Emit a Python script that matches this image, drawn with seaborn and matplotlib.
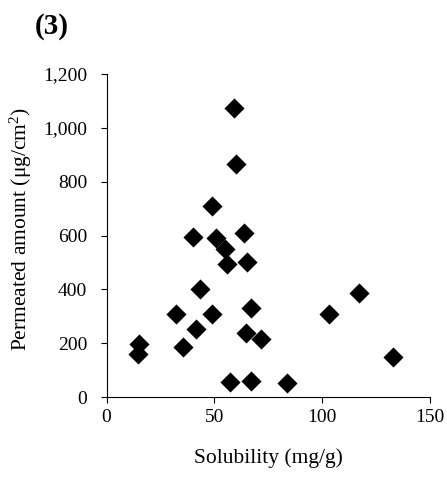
import matplotlib
matplotlib.use("Agg")
import matplotlib.pyplot as plt
import seaborn as sns
import pandas as pd

# Solubility (mg/g) vs permeated amount (ug/cm2) for each compound
solubility = [59.2, 59.9, 49.0, 40.0, 50.6, 63.9, 54.8, 55.7, 65.0, 43.3,
              117.2, 66.9, 32.2, 49.0, 103.2, 41.4, 64.7, 71.6, 15.2, 35.6,
              14.7, 133.0, 67.1, 57.3, 83.8]
permeated = [1075, 866, 709, 594, 591, 609, 548, 493, 501, 400,
             388, 332, 310, 307, 307, 254, 236, 217, 196, 186,
             159, 149, 59, 57, 51]

x_ticks = [0, 50, 100, 150]
y_ticks = [0, 200, 400, 600, 800, 1000, 1200]
y_tick_labels = ["0", "200", "400", "600", "800", "1,000", "1,200"]

sns.set_theme(style="ticks")
plt.rcParams["font.family"] = ["Liberation Serif", "DejaVu Serif"]
plt.rcParams["mathtext.fontset"] = "custom"
plt.rcParams["mathtext.rm"] = "Liberation Serif"
plt.rcParams["mathtext.it"] = "Liberation Serif:italic"

df = pd.DataFrame({"Solubility": solubility, "Permeated": permeated})

fig = plt.figure(figsize=(4.47, 4.80), dpi=100)
ax = fig.add_axes([106.5 / 447, 1 - 397 / 480, (430 - 106.5) / 447, (397 - 74) / 480])

sns.scatterplot(data=df, x="Solubility", y="Permeated", marker="D", s=105,
                color="black", edgecolor="black", linewidth=0, ax=ax, legend=False)

ax.set_xlim(0, 150)
ax.set_ylim(0, 1200)
ax.set_xticks(x_ticks)
ax.set_xticklabels([str(t) for t in x_ticks])
ax.set_yticks(y_ticks)
ax.set_yticklabels(y_tick_labels)
ax.tick_params(axis="both", direction="out", length=4, width=0.8,
               labelsize=14, colors="black")
ax.tick_params(axis="y", pad=10)
ax.tick_params(axis="x", pad=5)
for side in ("top", "right"):
    ax.spines[side].set_visible(False)
for side in ("left", "bottom"):
    ax.spines[side].set_color("black")
    ax.spines[side].set_linewidth(0.8)

ax.set_xlabel("Solubility (mg/g)", fontsize=15.5, labelpad=16, color="black")
ax.set_ylabel("Permeated amount (μg/cm$^{2}$)", fontsize=15.5, color="black")
ax.yaxis.set_label_coords(-(106.5 - 34) / (430 - 106.5), (397 - 229) / (397 - 74))

fig.text(35 / 447, 1 - 26 / 480, "(3)", fontsize=21, fontweight="bold",
         ha="left", va="center", color="black")

fig.savefig("out.png", dpi=100, facecolor="white")
